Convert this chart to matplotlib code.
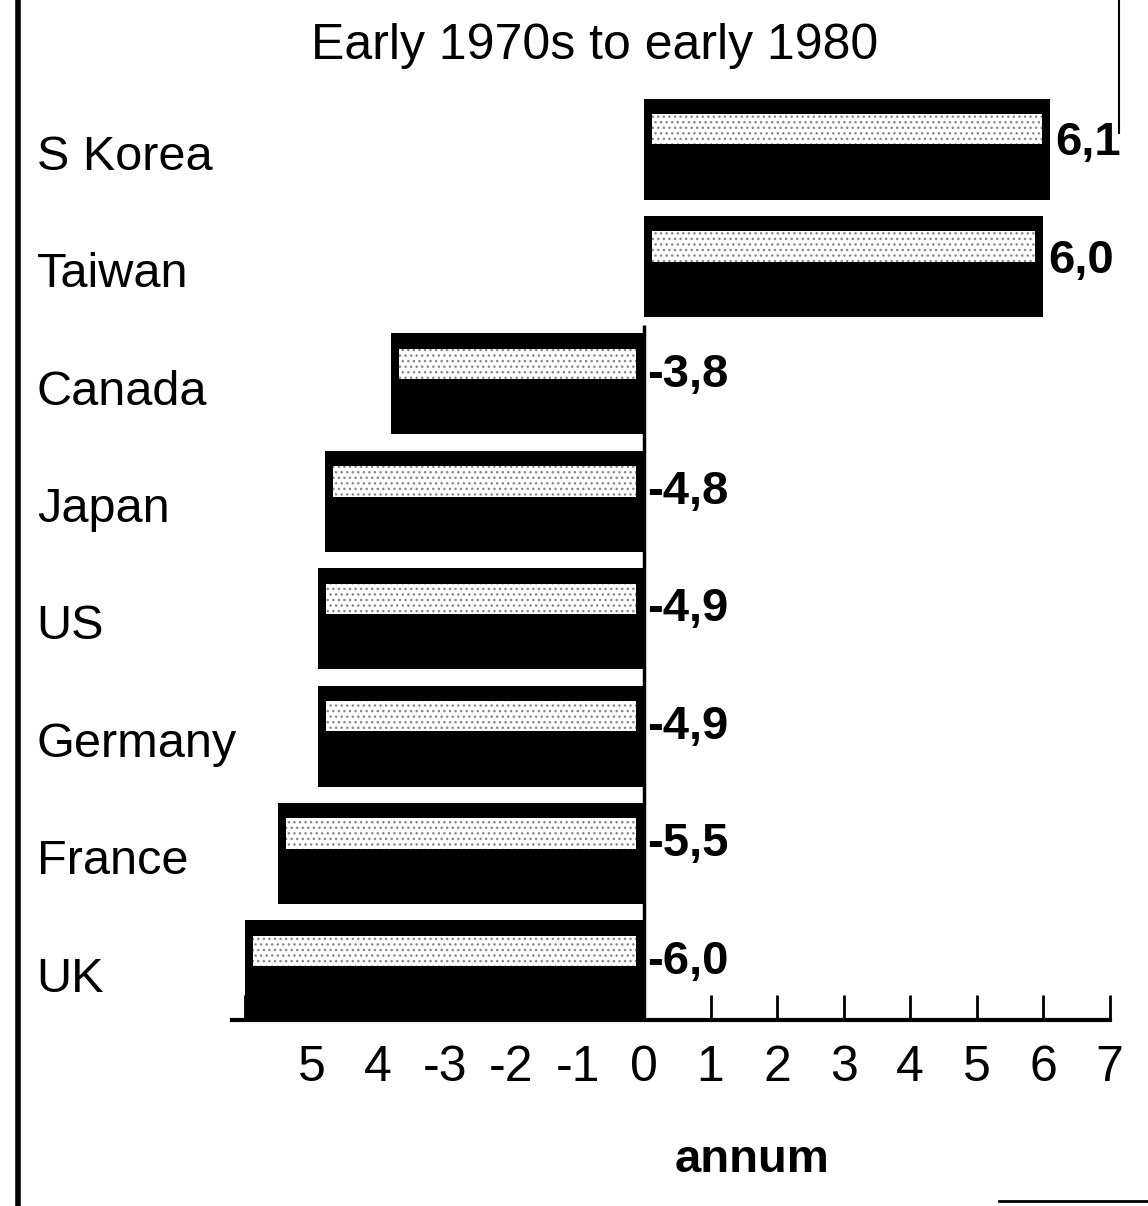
import numpy as np
import matplotlib
matplotlib.use("Agg")
import matplotlib.pyplot as plt
from matplotlib import transforms
from matplotlib.lines import Line2D

# data
countries = ["S Korea", "Taiwan", "Canada", "Japan", "US", "Germany", "France", "UK"]
values = [6.1, 6.0, -3.8, -4.8, -4.9, -4.9, -5.5, -6.0]
value_labels = ["6,1", "6,0", "-3,8", "-4,8", "-4,9", "-4,9", "-5,5", "-6,0"]
tick_vals = [-6, -5, -4, -3, -2, -1, 0, 1, 2, 3, 4, 5, 6, 7]
tick_labels = ["", "5", "4", "-3", "-2", "-1", "0", "1", "2", "3", "4", "5", "6", "7"]
title = "Early 1970s to early 1980"
xlabel = "annum"

plt.rcParams['font.family'] = ['Liberation Sans', 'DejaVu Sans']

fig = plt.figure(figsize=(11.48, 12.06), dpi=100)
ax = fig.add_axes([0.202, 0.154, 0.7645, 0.771])

y = np.arange(len(countries))
vals = np.array(values)

# cylinder look: black body with a pale highlight band near the top
bh = 0.86
ax.barh(y, vals, height=bh, color="black", zorder=2)
inset = np.where(vals > 0, 0.12, -0.12)
ax.barh(y - 0.17, vals - 2 * inset, left=inset, height=0.26,
        color="white", zorder=3)
ax.barh(y - 0.17, vals - 2 * inset, left=inset, height=0.26,
        color="none", hatch="...", edgecolor="#888888", linewidth=0, zorder=4)

# zero line under the negative bars
ax.vlines(0, 1.5, 7.42, color="black", lw=2.5, zorder=5)

# value labels
for yi, v, lab in zip(y, vals, value_labels):
    if v > 0:
        ax.text(v + 0.08, yi - 0.05, lab, va="center", ha="left",
                fontsize=34, fontweight="bold")
    else:
        ax.text(0.05, yi - 0.08, lab, va="center", ha="left",
                fontsize=34, fontweight="bold")

# country names on the left
tr = transforms.blended_transform_factory(fig.transFigure, ax.transData)
for yi, name in zip(y, countries):
    ax.text(0.032, yi + 0.07, name, transform=tr, va="center", ha="left",
            fontsize=35)

ax.set_xlim(-6.2, 7.0)
ax.set_ylim(7.42, -0.5)
ax.set_yticks([])
ax.set_xticks(tick_vals)
ax.set_xticklabels(tick_labels, fontsize=36)
ax.tick_params(axis="x", direction="in", length=18, width=2, pad=18)

for s in ["top", "right", "left"]:
    ax.spines[s].set_visible(False)
ax.spines["bottom"].set_linewidth(3)

fig.text(0.518, 0.962, title, ha="center", va="center", fontsize=36)
fig.text(0.655, 0.038, xlabel, ha="center", va="center", fontsize=34,
         fontweight="bold")

# page frame remnants
fig.add_artist(Line2D([0.016, 0.016], [0.0, 1.0], color="black", lw=4))
fig.add_artist(Line2D([0.975, 0.975], [0.89, 1.0], color="black", lw=1.5))
fig.add_artist(Line2D([0.87, 1.0], [0.004, 0.004], color="black", lw=2))

fig.savefig("out.png", dpi=100)
